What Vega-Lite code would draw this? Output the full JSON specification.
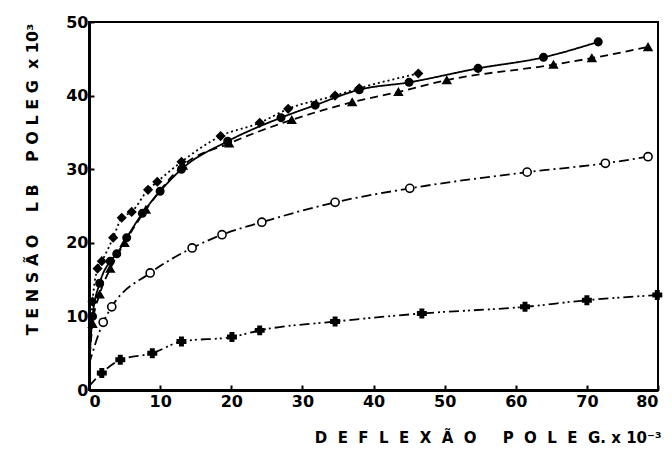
{
  "$schema": "https://vega.github.io/schema/vega-lite/v6.json",
  "width": 569,
  "height": 368,
  "autosize": "none",
  "padding": {"left": 89, "top": 22, "right": 14, "bottom": 60},
  "background": "white",
  "config": {
    "view": {"stroke": "black", "strokeWidth": 2},
    "font": "DejaVu Sans",
    "axis": {
      "grid": false,
      "domainColor": "black",
      "tickColor": "black",
      "labelColor": "black",
      "titleColor": "black",
      "labelFont": "DejaVu Sans",
      "labelFontWeight": "bold",
      "labelFontSize": 16,
      "titleFont": "DejaVu Sans",
      "titleFontWeight": "bold",
      "titleFontSize": 15,
      "tickSize": -5,
      "tickWidth": 2
    }
  },
  "data": {
    "values": [
      {"s": "A", "x": 0, "y": 3},
      {"s": "A", "x": 0.5, "y": 10},
      {"s": "A", "x": 1.5, "y": 14.5},
      {"s": "A", "x": 3, "y": 17.5},
      {"s": "A", "x": 3.9, "y": 18.5},
      {"s": "A", "x": 5.3, "y": 20.7},
      {"s": "A", "x": 7.5, "y": 24},
      {"s": "A", "x": 10, "y": 27},
      {"s": "A", "x": 13, "y": 30},
      {"s": "A", "x": 19.5, "y": 33.8},
      {"s": "A", "x": 27, "y": 37},
      {"s": "A", "x": 31.8, "y": 38.7},
      {"s": "A", "x": 38, "y": 40.8},
      {"s": "A", "x": 45, "y": 41.8},
      {"s": "A", "x": 54.7, "y": 43.7},
      {"s": "A", "x": 63.9, "y": 45.2},
      {"s": "A", "x": 71.6, "y": 47.3},
      {"s": "D", "x": 0, "y": 3},
      {"s": "D", "x": 0.5, "y": 9},
      {"s": "D", "x": 1.5, "y": 13},
      {"s": "D", "x": 3, "y": 16.5},
      {"s": "D", "x": 5, "y": 20},
      {"s": "D", "x": 8, "y": 24.5},
      {"s": "D", "x": 13.2, "y": 30.5},
      {"s": "D", "x": 19.7, "y": 33.5},
      {"s": "D", "x": 28.5, "y": 36.7},
      {"s": "D", "x": 37, "y": 39.1},
      {"s": "D", "x": 43.5, "y": 40.5},
      {"s": "D", "x": 50.3, "y": 42.1},
      {"s": "D", "x": 65.3, "y": 44.2},
      {"s": "D", "x": 70.7, "y": 45.1},
      {"s": "D", "x": 78.6, "y": 46.6},
      {"s": "T", "x": 0, "y": 4},
      {"s": "T", "x": 0.5, "y": 12},
      {"s": "T", "x": 1.2, "y": 16.5},
      {"s": "T", "x": 1.8, "y": 17.5},
      {"s": "T", "x": 3.4, "y": 20.7},
      {"s": "T", "x": 4.6, "y": 23.4},
      {"s": "T", "x": 6, "y": 24.2},
      {"s": "T", "x": 8.3, "y": 27.2},
      {"s": "T", "x": 9.6, "y": 28.3},
      {"s": "T", "x": 13, "y": 31},
      {"s": "T", "x": 18.5, "y": 34.5},
      {"s": "T", "x": 24, "y": 36.3},
      {"s": "T", "x": 28, "y": 38.2},
      {"s": "T", "x": 34.6, "y": 40},
      {"s": "T", "x": 38, "y": 41},
      {"s": "T", "x": 46.3, "y": 43},
      {"s": "O", "x": 0, "y": 3.5},
      {"s": "O", "x": 2, "y": 9.2},
      {"s": "O", "x": 3.2, "y": 11.3},
      {"s": "O", "x": 8.6, "y": 15.9},
      {"s": "O", "x": 14.5, "y": 19.3},
      {"s": "O", "x": 18.7, "y": 21.1},
      {"s": "O", "x": 24.3, "y": 22.8},
      {"s": "O", "x": 34.6, "y": 25.5},
      {"s": "O", "x": 45.1, "y": 27.4},
      {"s": "O", "x": 61.6, "y": 29.6},
      {"s": "O", "x": 72.6, "y": 30.8},
      {"s": "O", "x": 78.6, "y": 31.7},
      {"s": "P", "x": 0, "y": 0.5},
      {"s": "P", "x": 1.8, "y": 2.3},
      {"s": "P", "x": 4.4, "y": 4.1},
      {"s": "P", "x": 8.9, "y": 5},
      {"s": "P", "x": 13, "y": 6.6},
      {"s": "P", "x": 20.1, "y": 7.2},
      {"s": "P", "x": 24, "y": 8.1},
      {"s": "P", "x": 34.6, "y": 9.3},
      {"s": "P", "x": 46.8, "y": 10.4},
      {"s": "P", "x": 61.3, "y": 11.3},
      {"s": "P", "x": 70, "y": 12.2},
      {"s": "P", "x": 79.9, "y": 12.9}
    ]
  },
  "encoding": {
    "x": {
      "field": "x", "type": "quantitative",
      "scale": {"domain": [0, 80], "nice": false, "zero": false},
      "axis": {
        "values": [0, 10, 20, 30, 40, 50, 60, 70, 80],
        "domainWidth": 3,
        "labelPadding": 8,
        "title": "D\u00a0\u00a0E\u00a0\u00a0F\u00a0\u00a0L\u00a0\u00a0E\u00a0\u00a0X\u00a0\u00a0Ã\u00a0\u00a0O\u00a0\u00a0\u00a0\u00a0\u00a0P\u00a0\u00a0O\u00a0\u00a0L\u00a0\u00a0E\u00a0\u00a0G.\u00a0x\u00a010⁻³",
        "titleAnchor": "end",
        "titleAlign": "right",
        "titleBaseline": "middle",
        "titleX": 572,
        "titleY": 47
      }
    },
    "y": {
      "field": "y", "type": "quantitative",
      "scale": {"domain": [0, 50], "nice": false, "zero": false},
      "axis": {
        "values": [0, 10, 20, 30, 40, 50],
        "domainWidth": 3,
        "labelPadding": 6,
        "title": "T\u00a0E\u00a0N\u00a0S\u00a0Ã\u00a0O\u00a0\u00a0\u00a0\u00a0L\u00a0B\u00a0\u00a0\u00a0\u00a0P\u00a0O\u00a0L\u00a0E\u00a0G\u00a0\u00a0x\u00a010³",
        "titleFontSize": 16,
        "titleAlign": "center",
        "titleBaseline": "middle",
        "titleX": -57,
        "titleY": 157
      }
    }
  },
  "layer": [
    {
      "mark": {"type": "line", "color": "black", "strokeWidth": 1.8, "interpolate": "monotone"},
      "encoding": {
        "detail": {"field": "s"},
        "strokeDash": {
          "field": "s", "type": "nominal",
          "scale": {
            "domain": ["A", "D", "T", "O", "P"],
            "range": [[1, 0], [8, 5], [2, 3], [10, 4, 2, 4], [10, 4, 2, 3, 2, 4]]
          },
          "legend": null
        }
      }
    },
    {
      "transform": [{"filter": "datum.x > 0"}],
      "mark": {"type": "point", "filled": true, "stroke": "black", "strokeWidth": 1.6, "opacity": 1},
      "encoding": {
        "shape": {
          "field": "s", "type": "nominal",
          "scale": {
            "domain": ["A", "D", "T", "O", "P"],
            "range": ["circle", "triangle-up", "diamond", "circle", "cross"]
          },
          "legend": null
        },
        "fill": {
          "field": "s", "type": "nominal",
          "scale": {
            "domain": ["A", "D", "T", "O", "P"],
            "range": ["black", "black", "black", "white", "black"]
          },
          "legend": null
        },
        "size": {
          "field": "s", "type": "nominal",
          "scale": {
            "domain": ["A", "D", "T", "O", "P"],
            "range": [55, 70, 55, 110, 50]
          },
          "legend": null
        }
      }
    }
  ]
}
